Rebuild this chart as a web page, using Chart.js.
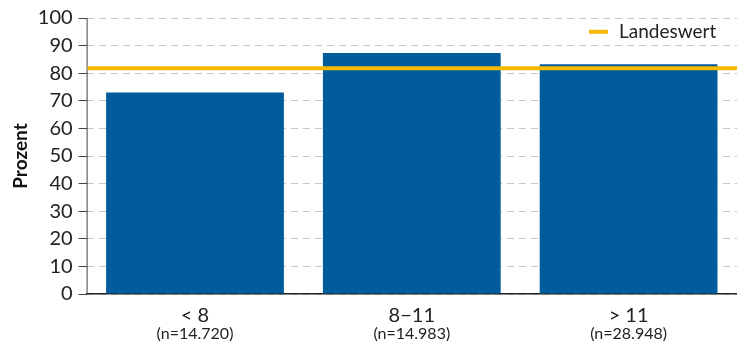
<!DOCTYPE html>
<html>
<head>
<meta charset="utf-8">
<script src="https://cdn.jsdelivr.net/npm/chart.js@4"></script>
<style>
    html, body { margin: 0; padding: 0; background: #fff; }
    #wrap { width: 737px; height: 347px; position: relative; }
</style>
</head>
<body>
<div id="wrap"><canvas id="myChart"></canvas></div>
<script>
// daten
const categories = ["< 8", "8\u221211", "> 11"];
const nLabels = ["(n=14.720)", "(n=14.983)", "(n=28.948)"];
const prozent = [73, 87.3, 83.2];
const landeswert = [81.8];
const landeswertLabel = ["Landeswert"];

const blau = "#005c9a";
const gelb = "#f7b900";

// y-achse durchgezogen, landeswert-linie, n-angaben und legende
const landeswertPlugin = {
    id: "landeswert",
    afterDatasetsDraw(chart) {
        const ctx = chart.ctx;
        const area = chart.chartArea;
        const xScale = chart.scales.x;
        ctx.save();
        ctx.strokeStyle = "#444";
        ctx.lineWidth = 1;
        ctx.beginPath();
        ctx.moveTo(area.left + 0.5, area.top);
        ctx.lineTo(area.left + 0.5, area.bottom);
        ctx.stroke();

        const y = chart.scales.y.getPixelForValue(landeswert[0]);
        ctx.strokeStyle = gelb;
        ctx.lineWidth = 4;
        ctx.beginPath();
        ctx.moveTo(area.left + 1, y);
        ctx.lineTo(area.right, y);
        ctx.stroke();

        // fallzahlen unter den kategorien
        ctx.fillStyle = "#222";
        ctx.font = "16px Lato";
        ctx.textAlign = "center";
        ctx.textBaseline = "middle";
        nLabels.forEach(function (lbl, i) {
            ctx.fillText(lbl, xScale.getPixelForValue(i), area.bottom + 40);
        });

        // legende oben rechts
        const ly = chart.scales.y.getPixelForValue(95);
        ctx.beginPath();
        ctx.moveTo(589, ly);
        ctx.lineTo(608, ly);
        ctx.stroke();
        ctx.font = "19px Lato";
        ctx.textAlign = "left";
        ctx.fillText(landeswertLabel[0], 619, ly);
        ctx.restore();
    },
};

const ctx = document.getElementById("myChart");
new Chart(ctx, {
    type: "bar",
    data: {
        labels: categories,
        datasets: [
            {
                label: "Prozent",
                data: prozent,
                backgroundColor: blau,
                barPercentage: 0.82,
                categoryPercentage: 1,
            },
        ],
    },
    options: {
        responsive: true,
        maintainAspectRatio: false,
        animation: false,
        layout: { padding: { top: 14, right: 0, left: 5, bottom: 9 } },
        plugins: {
            legend: { display: false },
            tooltip: { enabled: false },
        },
        scales: {
            x: {
                grid: { display: false, drawTicks: false },
                border: { color: "#222", width: 1.5 },
                ticks: {
                    color: "#222",
                    font: { family: "Lato", size: 20 },
                    padding: 10,
                },
            },
            y: {
                min: 0,
                max: 100,
                ticks: {
                    stepSize: 10,
                    autoSkip: false,
                    color: "#222",
                    font: { family: "Lato", size: 20 },
                    padding: 6,
                },
                grid: {
                    color: "#c8c8c8",
                    tickColor: "#444",
                    tickLength: 8,
                    tickBorderDash: [],
                },
                border: { display: false, dash: [7, 5] },
                title: {
                    display: true,
                    text: "Prozent",
                    color: "#111",
                    font: { family: "Lato", size: 19, weight: "bold" },
                    padding: { bottom: 0 },
                },
            },
        },
    },
    plugins: [landeswertPlugin],
});
</script>
</body>
</html>
